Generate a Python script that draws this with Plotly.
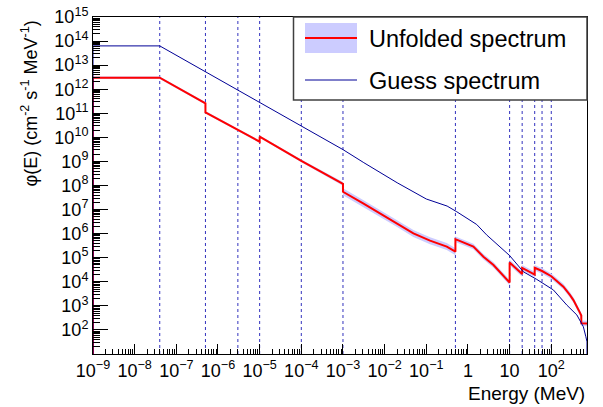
import plotly.graph_objects as go
import math

# Bin boundaries (MeV) shown as dashed vertical lines
boundaries = [4e-8, 5e-7, 3e-6, 1e-5, 1e-4, 1e-3, 0.5, 10, 20, 40, 60, 100]

# Guess spectrum (MeV, cm^-2 s^-1 MeV^-1)
guess_E = [1e-9, 1e-9, 4e-8, 1e-3, 3.16e-3, 2e-2, 0.1, 0.316, 0.54, 1.0, 1.62,
           2.8, 10, 21.4, 44.7, 112, 237, 412, 501, 589, 676, 720, 720]
guess_phi = [10, 6.3e13, 6.3e13, 3.1e9, 8.9e8, 1.3e8, 2.75e7, 1.4e7, 8.1e6, 4.2e6,
             2.4e6, 8.9e5, 1.23e5, 2.6e4, 1.26e4, 4.6e3, 1.07e3, 417, 214, 135,
             52, 32, 10]

# Unfolded spectrum
unf_E = [1e-9, 1e-9, 4e-8, 5e-7, 5e-7, 3e-6, 1e-5, 1e-5, 1e-4, 1e-3, 1e-3,
         3.05e-3, 7.8e-3, 1.95e-2, 4.9e-2, 0.123, 0.31, 0.5, 0.5, 1.35, 2.35,
         4.1, 10, 10, 20, 20, 40, 40, 60, 100, 195, 282, 340, 473, 525, 525, 720]
unf_phi = [10, 3.0e12, 3.0e12, 2.6e11, 1.1e11, 2.05e10, 6.6e9, 1.07e10, 1.05e9,
           1.17e8, 5.5e7, 1.8e7, 6.9e6, 2.7e6, 1.02e6, 5.1e5, 2.9e5, 1.78e5,
           5.9e5, 2.9e5, 1.1e5, 5.0e4, 9.3e3, 6.3e4, 2.1e4, 3.8e4, 2.0e4, 3.8e4,
           2.8e4, 1.7e4, 6.3e3, 2.8e3, 1.74e3, 575, 400, 190, 186]
# Relative uncertainty of the unfolded spectrum
unf_err = [0.0, 0.12, 0.12, 0.12, 0.12, 0.12, 0.12, 0.12, 0.14, 0.2, 0.4,
           0.4, 0.4, 0.4, 0.4, 0.4, 0.4, 0.4, 0.3, 0.3, 0.3,
           0.3, 0.3, 0.3, 0.3, 0.3, 0.3, 0.3, 0.3, 0.3, 0.3, 0.3, 0.3, 0.3, 0.3, 0.3, 0.3]

x_tickvals = [1e-9, 1e-8, 1e-7, 1e-6, 1e-5, 1e-4, 1e-3, 1e-2, 1e-1, 1, 10, 100]
x_ticktext = ["10<sup>\u22129</sup>", "10<sup>\u22128</sup>", "10<sup>\u22127</sup>",
              "10<sup>\u22126</sup>", "10<sup>\u22125</sup>", "10<sup>\u22124</sup>",
              "10<sup>\u22123</sup>", "10<sup>\u22122</sup>", "10<sup>\u22121</sup>",
              "1", "10", "10<sup>2</sup>"]
y_tickvals = [10.0 ** k for k in range(2, 16)]
y_ticktext = ["10<sup>%d</sup>" % k for k in range(2, 16)]

x_minor = [m * 10.0 ** d for d in range(-9, 3) for m in range(2, 10)]
y_minor = [m * 10.0 ** d for d in range(1, 15) for m in range(2, 10)]

upper = [p * (1 + e) for p, e in zip(unf_phi, unf_err)]
lower = [p / (1 + e) for p, e in zip(unf_phi, unf_err)]

FONT = "Liberation Sans, Arial, Helvetica, sans-serif"

fig = go.Figure()
fig.add_trace(go.Scatter(x=unf_E + unf_E[::-1], y=upper + lower[::-1],
                         fill="toself", fillcolor="rgb(204,204,255)",
                         line=dict(width=0), mode="lines", hoverinfo="skip",
                         showlegend=False))
fig.add_trace(go.Scatter(x=unf_E, y=unf_phi, mode="lines",
                         line=dict(color="#ff0000", width=2), showlegend=False))
fig.add_trace(go.Scatter(x=guess_E, y=guess_phi, mode="lines",
                         line=dict(color="#000096", width=1), showlegend=False))

for b in boundaries:
    fig.add_shape(type="line", xref="x", yref="paper", x0=b, x1=b, y0=0, y1=1,
                  line=dict(color="rgb(50,50,190)", width=1, dash="3px,3px"),
                  layer="below")

# Legend box
def px(x):
    return (x - 93) / 494.0

def py(y):
    return 1 - (y - 17) / 337.0

fig.add_shape(type="rect", xref="paper", yref="paper", x0=px(293.5), x1=1.0,
              y0=py(100), y1=1.0, fillcolor="white",
              line=dict(color="#404040", width=1.5), layer="above")
fig.add_shape(type="rect", xref="paper", yref="paper", x0=px(305), x1=px(357),
              y0=py(53), y1=py(23), fillcolor="rgb(204,204,255)",
              line=dict(width=0), layer="above")
fig.add_shape(type="line", xref="paper", yref="paper", x0=px(305), x1=px(357),
              y0=py(38), y1=py(38), line=dict(color="#ff0000", width=2), layer="above")
fig.add_shape(type="line", xref="paper", yref="paper", x0=px(305), x1=px(357),
              y0=py(80), y1=py(80), line=dict(color="#000096", width=1), layer="above")
fig.add_annotation(xref="paper", yref="paper", x=px(367), y=py(39), text="Unfolded spectrum",
                   showarrow=False, xanchor="left", yanchor="middle",
                   font=dict(family=FONT, size=23.5, color="black"))
fig.add_annotation(xref="paper", yref="paper", x=px(367), y=py(81), text="Guess spectrum",
                   showarrow=False, xanchor="left", yanchor="middle",
                   font=dict(family=FONT, size=23.5, color="black"))

# Axis titles
fig.add_annotation(xref="paper", yref="paper", x=1.0, y=py(393), text="Energy (MeV)",
                   showarrow=False, xanchor="right", yanchor="middle",
                   font=dict(family=FONT, size=19, color="black"))
fig.add_annotation(xref="paper", yref="paper", x=px(29.5), y=py(19),
                   text="\u03c6(E) (cm<sup>-2</sup> s<sup>-1</sup> MeV<sup>-1</sup>)",
                   textangle=-90, showarrow=False, xanchor="center", yanchor="top",
                   font=dict(family=FONT, size=18, color="black"))

fig.update_xaxes(type="log", range=[-9, math.log10(720)], tickmode="array",
                 tickvals=x_tickvals, ticktext=x_ticktext, ticks="inside",
                 ticklen=10, tickwidth=1, tickcolor="black", showline=True,
                 linecolor="black", linewidth=1, mirror=True, showgrid=False,
                 zeroline=False, automargin=False,
                 tickfont=dict(family=FONT, size=18, color="black"),
                 minor=dict(tickmode="array", tickvals=x_minor, ticks="inside",
                            ticklen=5, tickwidth=1, tickcolor="black", showgrid=False))
fig.update_yaxes(type="log", range=[1, 15], tickmode="array",
                 tickvals=y_tickvals, ticktext=y_ticktext, ticks="inside",
                 ticklen=15, tickwidth=1, tickcolor="black", showline=True,
                 linecolor="black", linewidth=1, mirror=True, showgrid=False,
                 zeroline=False, automargin=False,
                 tickfont=dict(family=FONT, size=18, color="black"),
                 minor=dict(tickmode="array", tickvals=y_minor, ticks="inside",
                            ticklen=7, tickwidth=1, tickcolor="black", showgrid=False))

fig.update_layout(width=603, height=407, margin=dict(l=93, r=16, t=17, b=53),
                  plot_bgcolor="white", paper_bgcolor="white", showlegend=False,
                  font=dict(family=FONT))

fig.write_html("out.html", config={"displayModeBar": False},
               post_script="document.body.style.margin='0px';document.body.style.overflow='hidden';")
